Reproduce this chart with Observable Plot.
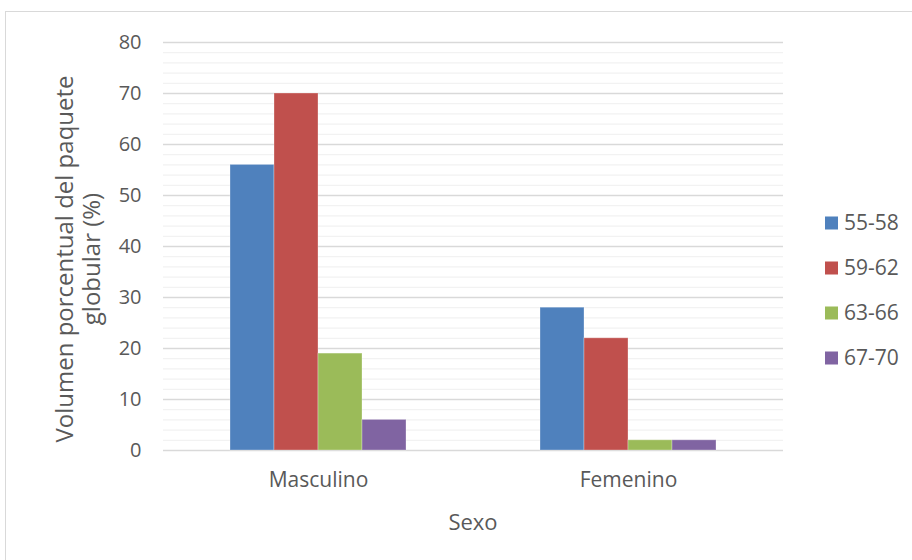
<!DOCTYPE html>
<html>
<head>
<meta charset="utf-8">
<script src="https://cdn.jsdelivr.net/npm/d3@7"></script>
<script src="https://cdn.jsdelivr.net/npm/@observablehq/plot@0.6"></script>
<style>
  html, body { margin: 0; padding: 0; background: #ffffff; }
  #chart { position: relative; width: 912px; height: 560px; overflow: hidden; }
</style>
</head>
<body>
<div id="chart"></div>
<script>
// Volumen porcentual del paquete globular por sexo y grupo
const sexos = ["Masculino", "Femenino"];
const grupos = ["55-58", "59-62", "63-66", "67-70"];
const masculino = [56, 70, 19, 6];
const femenino = [28, 22, 2, 2];
const colores = ["#4f81bd", "#c0504d", "#9bbb59", "#8064a2"];
const yTicks = [0, 10, 20, 30, 40, 50, 60, 70, 80];

const tituloY = ["Volumen porcentual del paquete", "globular (%)"];
const tituloX = "Sexo";

const filas = [
  ...grupos.map((g, i) => ({sexo: sexos[0], grupo: g, valor: masculino[i]})),
  ...grupos.map((g, i) => ({sexo: sexos[1], grupo: g, valor: femenino[i]}))
];

// minor gridlines every 2 units, skipping the major ones
const menores = d3.range(0, 81, 2).filter(v => v % 10 !== 0);

const font = "'Open Sans', 'DejaVu Sans', sans-serif";
const gris = "#595959";

const plot = Plot.plot({
  width: 912,
  height: 560,
  marginLeft: 163,
  marginRight: 129,
  marginTop: 42,
  marginBottom: 110,
  style: {fontFamily: font, fontSize: "20px", color: gris, background: "transparent"},
  fx: {domain: sexos, padding: 0, axis: "bottom", tickSize: 0, tickPadding: 22, label: null},
  x: {domain: grupos, paddingInner: 0, paddingOuter: 1.5, axis: null},
  y: {domain: [0, 80], ticks: yTicks, tickSize: 0, tickPadding: 22, label: null, tickFormat: d => String(d)},
  color: {domain: grupos, range: colores},
  marks: [
    Plot.ruleY(menores, {stroke: "#f2f2f2", strokeWidth: 1.3}),
    Plot.ruleY(yTicks, {stroke: "#d9d9d9", strokeWidth: 1.3}),
    Plot.barY(filas, {
      fx: "sexo", x: "grupo", y: "valor", fill: "grupo",
      stroke: "#ffffff", strokeOpacity: 0.3, strokeWidth: 1
    })
  ]
});

document.getElementById("chart").appendChild(plot);

const svg = d3.select(plot);

// category labels slightly larger than the value ticks
svg.selectAll('g[aria-label^="fx-axis"] text').attr("font-size", 21);

// outer chart frame
svg.insert("rect", ":first-child")
  .attr("x", 5.5).attr("y", 11.5)
  .attr("width", 1000).attr("height", 1000)
  .attr("fill", "#ffffff")
  .attr("stroke", "#d9d9d9")
  .attr("stroke-width", 1);

// y axis title, two lines
const yCentro = 259;
[73, 100].forEach((x, i) => {
  svg.append("text")
    .attr("transform", `translate(${x},${yCentro}) rotate(-90)`)
    .attr("text-anchor", "middle")
    .attr("font-family", font)
    .attr("font-size", 24)
    .attr("fill", gris)
    .text(tituloY[i]);
});

// x axis title
svg.append("text")
  .attr("x", (163 + 783) / 2)
  .attr("y", 530)
  .attr("text-anchor", "middle")
  .attr("font-family", font)
  .attr("font-size", 22)
  .attr("fill", gris)
  .text(tituloX);

// legend
const color = plot.scale("color");
const leyenda = svg.append("g").attr("transform", "translate(825,223)");
color.domain.forEach((g, i) => {
  const fila = leyenda.append("g").attr("transform", `translate(0,${i * 45})`);
  fila.append("rect")
    .attr("x", 0).attr("y", -6.5)
    .attr("width", 13).attr("height", 13)
    .attr("fill", color.range[i]);
  fila.append("text")
    .attr("x", 19).attr("y", 0)
    .attr("dy", "0.35em")
    .attr("text-anchor", "start")
    .attr("font-family", font)
    .attr("font-size", 21)
    .attr("fill", gris)
    .text(g);
});
</script>
</body>
</html>
